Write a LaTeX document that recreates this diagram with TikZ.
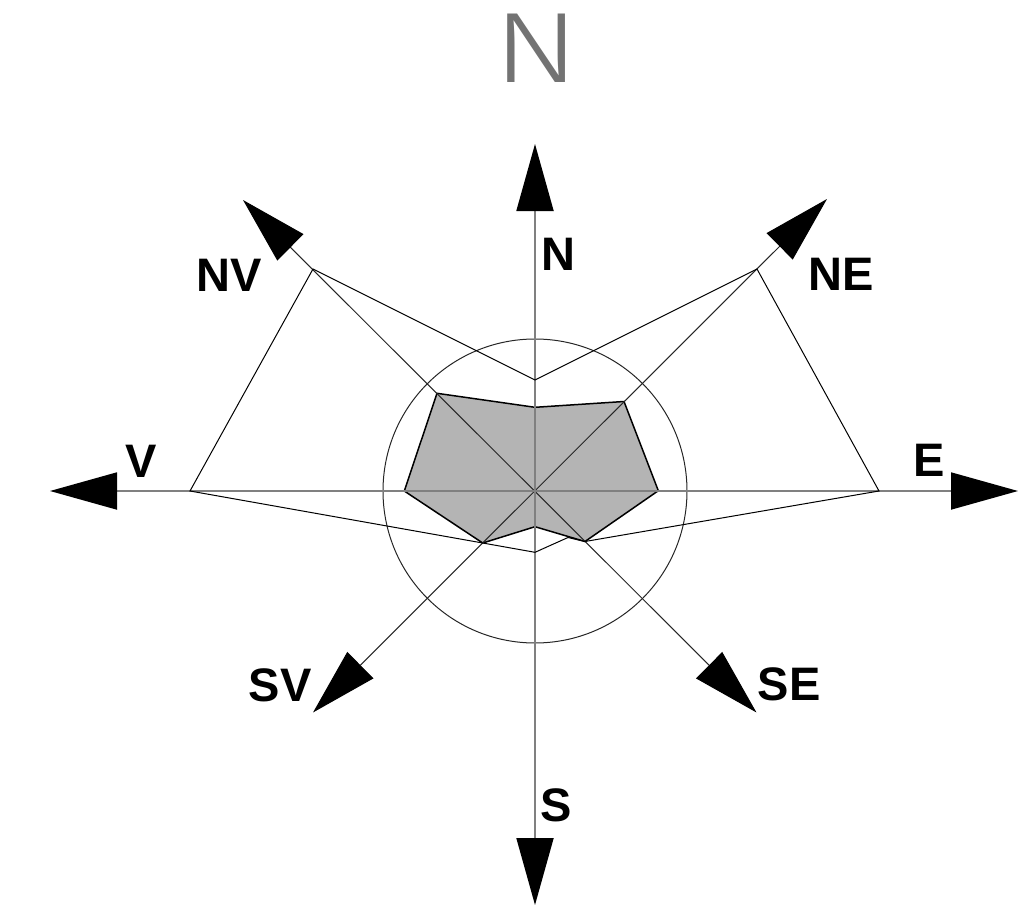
\documentclass[tikz,border=0pt]{standalone}
\usepackage{fontspec}
\setmainfont{Liberation Sans}
\IfFontExistsTF{Fira Sans Light}{\newfontfamily\bigfont{Fira Sans Light}}{\newfontfamily\bigfont{Liberation Sans}}
\usetikzlibrary{arrows.meta}
\definecolor{axisgray}{HTML}{808080}
\definecolor{shade}{HTML}{B4B4B4}
\definecolor{titlegray}{HTML}{737373}
\begin{document}
\begin{tikzpicture}[x=1pt,y=-1pt,
  lbl/.style={font=\fontsize{47}{56}\selectfont\bfseries, inner sep=0pt, anchor=center},
  axisline/.style={draw=axisgray, line width=1.8pt},
  diagline/.style={draw=black!85, line width=1pt},
  twotips/.style={{Triangle[length=67pt,width=37pt,color=black]}-{Triangle[length=67pt,width=37pt,color=black]}},
  shaded/.style={fill=shade, draw=black, line width=1.5pt, line join=miter},
  outerpoly/.style={draw=black, line width=1pt, line join=miter},
  ring/.style={draw=black!85, line width=1pt}]
\useasboundingbox (0,0) rectangle (1018,910);
% centre and arrow tips
\coordinate (C) at (535,491);
\coordinate (tN) at (535,144);
\coordinate (tS) at (535,905);
\coordinate (tV) at (50,491);
\coordinate (tE) at (1018,491);
\coordinate (tNV) at (243,200);
\coordinate (tSE) at (756.5,712.5);
\coordinate (tNE) at (827,199);
\coordinate (tSV) at (313,712.5);
% shaded polygon
\coordinate (sN) at (535,407.3);
\coordinate (sNE) at (624,401.5);
\coordinate (sE) at (658.3,490.7);
\coordinate (sSE) at (585,541.5);
\coordinate (sS) at (535,526.7);
\coordinate (sSV) at (482.7,543);
\coordinate (sV) at (404.3,491);
\coordinate (sNV) at (437,393.3);
% outer polygon
\coordinate (oV) at (190,491);
\coordinate (oNV) at (313,269);
\coordinate (oN) at (535,380);
\coordinate (oNE) at (757,269);
\coordinate (oE) at (879,491);
\coordinate (oQ) at (568,537.5);
\coordinate (oS) at (535,552.3);

\path[shaded] (sN) -- (sNE) -- (sE) -- (sSE) -- (sS) -- (sSV) -- (sV) -- (sNV) -- cycle;
\draw[ring] (C) circle[radius=152];
\draw[diagline, twotips] (tSE) -- (tNV);
\draw[diagline, twotips] (tSV) -- (tNE);
\draw[axisline, twotips] (tS) -- (tN);
\draw[axisline, twotips] (tV) -- (tE);
\path[outerpoly] (oV) -- (oNV) -- (oN) -- (oNE) -- (oE) -- (sSE) -- (oQ) -- (oS) -- (sSV) -- cycle;

\node[lbl] (lN) at (558,254) {N};
\node[lbl] (lNE) at (841,274) {NE};
\node[lbl] (lNV) at (229,275) {NV};
\node[lbl] (lV) at (141.5,461) {V};
\node[lbl] (lE) at (929,460) {E};
\node[lbl] (lSV) at (280,685) {SV};
\node[lbl] (lSE) at (789,684) {SE};
\node[lbl] (lS) at (556,805) {S};
\node[inner sep=0pt, anchor=center, text=titlegray, font=\bigfont\fontsize{100}{120}\selectfont] (title) at (537,48.5) {\scalebox{1.28}[1]{N}};
\end{tikzpicture}
\end{document}
